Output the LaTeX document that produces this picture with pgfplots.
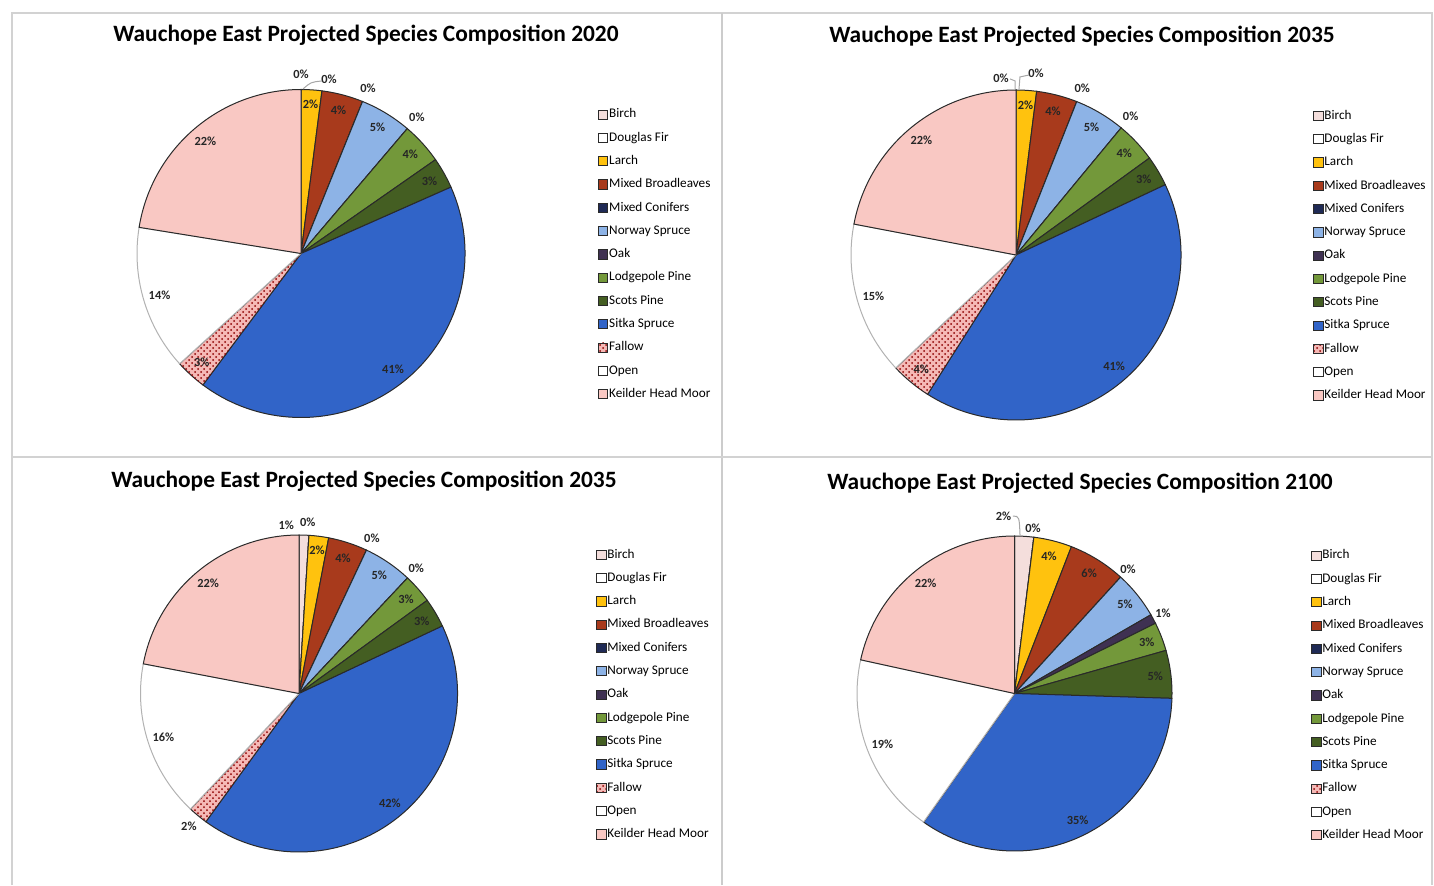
\documentclass[border=0pt]{standalone}
\usepackage{fontspec}
\setmainfont{Carlito}
\usepackage{pgfplots}
\pgfplotsset{compat=1.18}
\usetikzlibrary{patterns}

\definecolor{birch}{HTML}{F4DEDC}
\definecolor{douglas}{HTML}{FFFFFF}
\definecolor{larch}{HTML}{FFC20E}
\definecolor{mixbroad}{HTML}{A83A1C}
\definecolor{mixconif}{HTML}{1F2A55}
\definecolor{norway}{HTML}{8DB3E6}
\definecolor{oak}{HTML}{3F3152}
\definecolor{lodge}{HTML}{73983A}
\definecolor{scots}{HTML}{445E22}
\definecolor{sitka}{HTML}{3164C8}
\definecolor{fallow}{HTML}{F5B9B6}
\definecolor{keilder}{HTML}{F9C8C3}
\definecolor{edge}{HTML}{2A2A2A}

\tikzset{
  sbirch/.style={fill=birch,draw=edge},
  sdouglas/.style={fill=douglas,draw=edge},
  slarch/.style={fill=larch,draw=edge},
  smixbroad/.style={fill=mixbroad,draw=edge},
  smixconif/.style={fill=mixconif,draw=edge},
  snorway/.style={fill=norway,draw=edge},
  soak/.style={fill=oak,draw=edge},
  slodge/.style={fill=lodge,draw=edge},
  sscots/.style={fill=scots,draw=edge},
  ssitka/.style={fill=sitka,draw=edge},
  sfallow/.style={fill=fallow,draw=edge,postaction={pattern=crosshatch dots,pattern color=red!55!black}},
  sopen/.style={fill=white,draw=gray!60},
  skeilder/.style={fill=keilder,draw=edge},
  leader/.style={draw=gray!70,line width=0.5pt},
}

\newcommand\pctfont{\fontsize{6.2}{7}\selectfont\bfseries}

% #1 radius (pt), #2 list of value/style/label radius (0 = none)/label xshift (pt)
\newcommand\pieslices[2]{%
  \gdef\pietotal{0}%
  \foreach \v/\s/\r/\dx in {#2}{\pgfmathparse{\pietotal+\v}\xdef\pietotal{\pgfmathresult}}%
  \gdef\piecum{0}%
  \foreach \v/\s/\r/\dx in {#2}{%
    \pgfmathsetmacro\pa{90-360*(\piecum/\pietotal)}%
    \pgfmathparse{\piecum+\v}\xdef\piecum{\pgfmathresult}%
    \pgfmathsetmacro\pb{90-360*(\piecum/\pietotal)}%
    \pgfmathsetmacro\pmid{(\pa+\pb)/2}%
    \pgfmathsetmacro\sx{cos(\pa)}\pgfmathsetmacro\sy{sin(\pa)}%
    \pgfmathsetmacro\lx{\r*cos(\pmid)}\pgfmathsetmacro\ly{\r*sin(\pmid)}%
    \edef\slice{\noexpand\filldraw[\s,line width=0.5pt]
      (axis cs:0,0) -- (axis cs:\sx,\sy) arc[start angle=\pa,end angle=\pb,radius=#1pt] -- cycle;}%
    \slice
    \ifdim\r pt>0pt
      \edef\slicelabel{\noexpand\node[font=\noexpand\pctfont,text=black!85,xshift=\dx pt]
        at (axis cs:\lx,\ly) {\v\noexpand\%};}%
      \slicelabel
    \fi
  }%
}

\newcommand\pielegend{%
  \addlegendimage{sbirch}\addlegendimage{sdouglas}\addlegendimage{slarch}%
  \addlegendimage{smixbroad}\addlegendimage{smixconif}\addlegendimage{snorway}%
  \addlegendimage{soak}\addlegendimage{slodge}\addlegendimage{sscots}%
  \addlegendimage{ssitka}\addlegendimage{sfallow}\addlegendimage{sopen}%
  \addlegendimage{skeilder}%
}

\pgfplotsset{
  pie/.style={
    scale only axis, width=#1pt, height=#1pt,
    xmin=-1, xmax=1, ymin=-1, ymax=1,
    hide axis, clip=false, anchor=origin,
    legend entries={Birch,Douglas Fir,Larch,Mixed Broadleaves,Mixed Conifers,
      Norway Spruce,Oak,Lodgepole Pine,Scots Pine,Sitka Spruce,Fallow,Open,
      Keilder Head Moor},
    legend image code/.code={\draw[##1,draw=edge,line width=0.4pt]
      (0pt,-2.3pt) rectangle (4.6pt,2.3pt);},
    legend style={anchor=north west, draw=none, fill=none, inner sep=0pt,
      font=\fontsize{6.6}{7.5}\selectfont, row sep=4.35pt,
      nodes={inner sep=0.5pt, text height=4.8pt, text depth=1.5pt}},
    legend cell align=left,
  },
}

\begin{document}
\begin{tikzpicture}
\path[use as bounding box] (0,0) rectangle (717pt,442.5pt);

\draw[gray!35, line width=0.8pt] (6pt,0pt) -- (6pt,436pt) -- (716pt,436pt) -- (716pt,0pt);
\draw[gray!40, line width=0.8pt] (361pt,0pt) -- (361pt,436pt);
\draw[gray!35, line width=0.8pt] (6pt,214pt) -- (716pt,214pt);

\begin{axis}[pie=164, at={(150.5pt,315.75pt)},
  legend style={at={(1.405,0.947)}}]
  \pielegend
  \pieslices{82}{0/sbirch/1.09/0, 0/sdouglas/1.06/14, 2/slarch/0.91/0,
    4/smixbroad/0.9/0, 0/smixconif/1.09/0, 5/snorway/0.9/0, 0/soak/1.09/0,
    4/slodge/0.9/0, 3/sscots/0.9/0, 41/ssitka/0.9/0, 3/sfallow/0.9/0,
    14/sopen/0.9/0, 22/skeilder/0.9/0}
  \draw[leader] (axis cs:0.128,1.052) .. controls (axis cs:0.06,1.045) .. (axis cs:0.012,1.003);
\end{axis}

\begin{axis}[pie=165, at={(508pt,315pt)},
  legend style={at={(1.4,0.945)}}]
  \pielegend
  \pieslices{82.5}{0/sbirch/1.07/-7.5, 0/sdouglas/1.1/10, 2/slarch/0.91/0,
    4/smixbroad/0.9/0, 0/smixconif/1.09/0, 5/snorway/0.9/0, 0/soak/1.09/0,
    4/slodge/0.9/0, 3/sscots/0.9/0, 41/ssitka/0.9/0, 4/sfallow/0.9/0,
    15/sopen/0.9/0, 22/skeilder/0.9/0}
  \draw[leader] (axis cs:-0.036,1.067) -- (axis cs:-0.006,1.055) -- (axis cs:-0.006,1.006);
  \draw[leader] (axis cs:0.079,1.091) -- (axis cs:0.024,1.079) -- (axis cs:0.018,1.006);
\end{axis}

\begin{axis}[pie=158.5, at={(149.5pt,95.75pt)},
  legend style={at={(1.437,0.962)}}]
  \pielegend
  \pieslices{79.25}{1/sbirch/1.06/-9, 0/sdouglas/1.08/-1, 2/slarch/0.91/0,
    4/smixbroad/0.9/0, 0/smixconif/1.08/0, 5/snorway/0.9/0, 0/soak/1.08/0,
    3/slodge/0.9/0, 3/sscots/0.9/0, 42/ssitka/0.9/0, 2/sfallow/1.09/0,
    16/sopen/0.9/0, 22/skeilder/0.9/0}
\end{axis}

\begin{axis}[pie=157.5, at={(507.25pt,95.75pt)},
  legend style={at={(1.441,0.962)}}]
  \pielegend
  \pieslices{78.75}{2/sbirch/1.13/-11, 0/sdouglas/1.06/-1, 4/slarch/0.9/0,
    6/smixbroad/0.9/0, 0/smixconif/1.07/0, 5/snorway/0.9/0, 1/soak/1.07/0,
    3/slodge/0.9/0, 5/sscots/0.9/0, 35/ssitka/0.9/0, 0/sfallow/0/0,
    19/sopen/0.9/0, 22/skeilder/0.9/0}
  \draw[leader] (axis cs:-0.01,1.127) .. controls (axis cs:0.03,1.125) .. (axis cs:0.035,1.006);
\end{axis}

\begin{scope}[every node/.style={font=\fontsize{11.7}{14}\selectfont\bfseries}]
\node at (183pt,425pt) {Wauchope East Projected Species Composition 2020};
\node at (541pt,424.5pt) {Wauchope East Projected Species Composition 2035};
\node at (182pt,202pt) {Wauchope East Projected Species Composition 2035};
\node at (540pt,201pt) {Wauchope East Projected Species Composition 2100};
\end{scope}
\end{tikzpicture}
\end{document}
